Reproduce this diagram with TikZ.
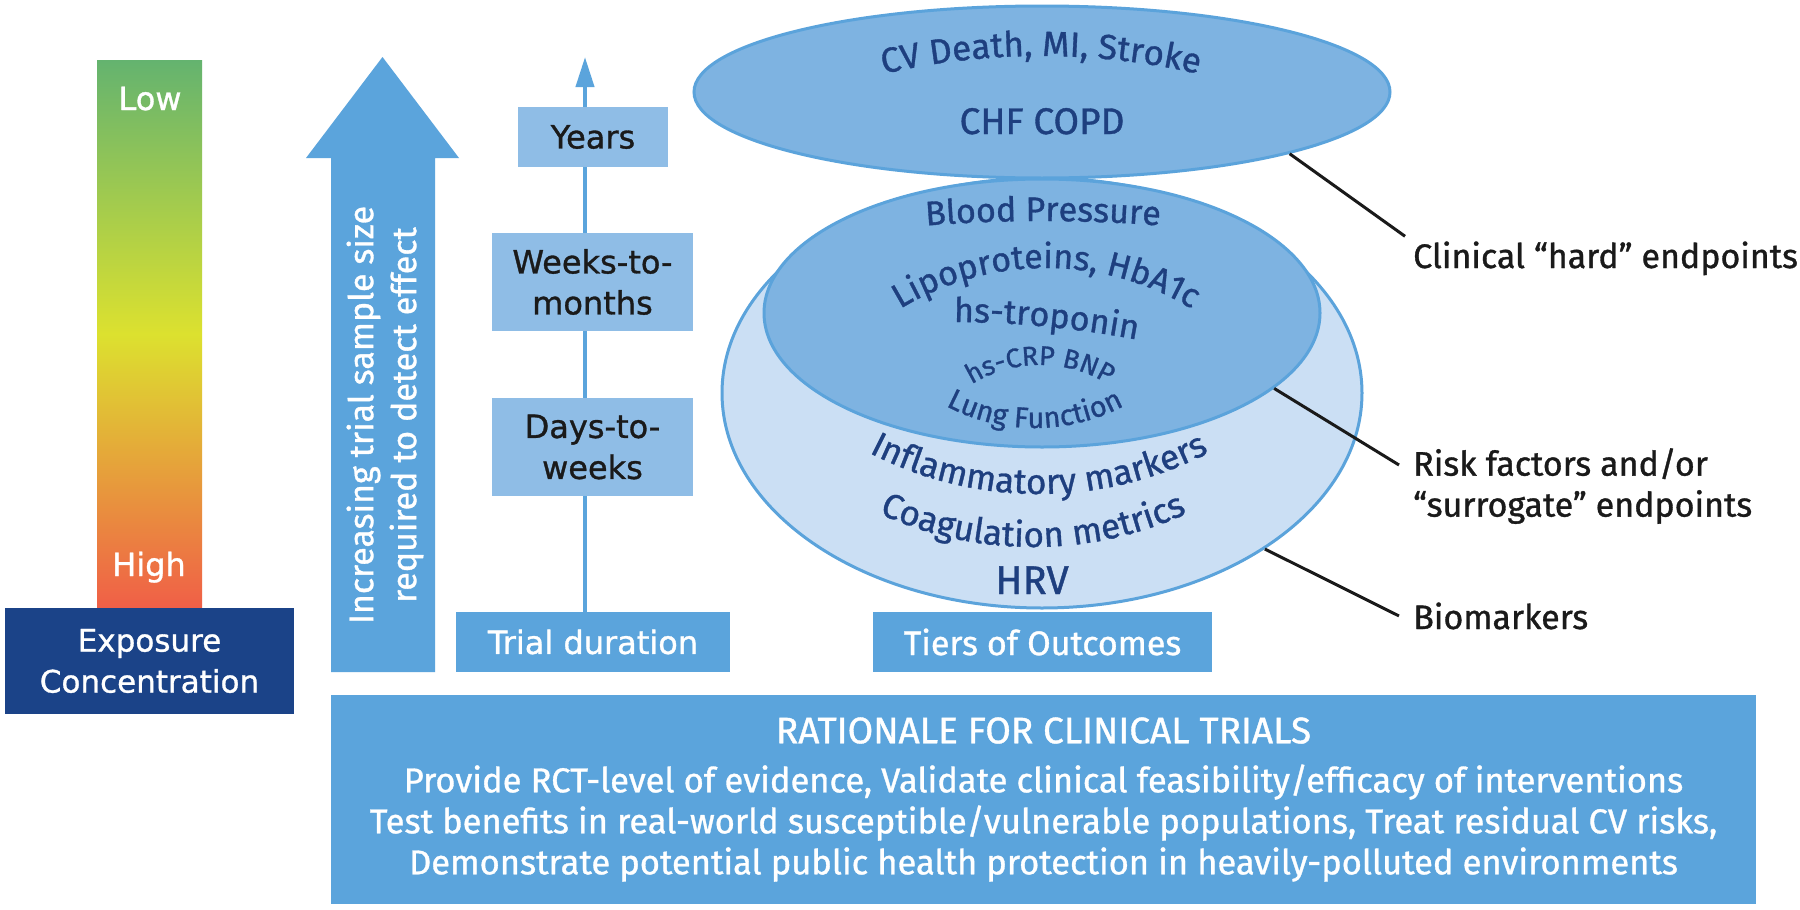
\documentclass[tikz,border=0pt]{standalone}
\usepackage{fontspec}
\setmainfont{Fira Sans}[FakeBold=1]
\newfontfamily\widefont{DejaVu Sans}[FakeBold=1]
\usetikzlibrary{shapes.geometric,arrows.meta,decorations.text}
\definecolor{boxblue}{HTML}{5BA4DC}
\definecolor{lightbox}{HTML}{8FBDE6}
\definecolor{ellmid}{HTML}{7EB3E1}
\definecolor{ellline}{HTML}{5BA3DB}
\definecolor{elllight}{HTML}{CBDFF4}
\definecolor{navy}{HTML}{1E3F7F}
\definecolor{expblue}{HTML}{1B4388}
\definecolor{gtop}{HTML}{64B36F}
\definecolor{gmid}{HTML}{DCE12F}
\definecolor{gbot}{HTML}{F05F47}
\definecolor{txtblack}{HTML}{1A1A1A}
\newcommand{\fsz}[1]{\fontsize{#1}{41}\selectfont}
\begin{document}
\begin{tikzpicture}[x=1pt,y=-1pt,
  ell/.style={ellipse, draw=ellline, line width=3pt, inner sep=0pt},
  boxnode/.style={rectangle, inner sep=0pt, fill=boxblue},
  durbox/.style={rectangle, inner sep=0pt, fill=lightbox, text=txtblack, font=\widefont\fsz{32}, align=center},
  eltext/.style={text=navy, inner sep=0pt},
  lbl/.style={text=txtblack, font=\fsz{34}, inner sep=0pt, align=left},
  conn/.style={draw=txtblack, line width=3pt},
  arctext/.style={decorate, decoration={text along path, text align=center}}
]
\useasboundingbox (0,0) rectangle (1800,910);
\fill[white] (0,0) rectangle (1800,910);

% ellipses
\node[ell, fill=elllight, minimum width=640pt, minimum height=430pt] (outerE) at (1042,393) {};
\node[ell, fill=ellmid, minimum width=556pt, minimum height=268pt] (innerE) at (1042,313) {};
\node[ell, fill=ellmid, minimum width=696pt, minimum height=172pt] (topE) at (1042,92) {};

% ellipse texts
\path[arctext, decoration={text={|\fsz{35}\color{navy}|CV Death, MI, Stroke}}]
  (1041,756) ++(110:700pt) arc[start angle=110, end angle=70, radius=700pt];
\node[eltext, font=\fsz{37}, anchor=base] (chf) at (1042,134) {CHF COPD};
\path[arctext, decoration={text={|\fsz{34}\color{navy}|Blood Pressure}}]
  (1043,1721) ++(98:1500pt) arc[start angle=98, end angle=82, radius=1500pt];
\path[arctext, decoration={text={|\fsz{34}\color{navy}|Lipoproteins, HbA1c}}]
  (1046,548) ++(125:280pt) arc[start angle=125, end angle=55, radius=280pt];
\path[arctext, decoration={text={|\fsz{34}\color{navy}|hs-troponin}}]
  (950,1322) ++(95:1000pt) arc[start angle=95, end angle=74, radius=1000pt];
\path[arctext, decoration={text={|\fsz{27}\color{navy}|hs-CRP BNP}}]
  (1040,495) ++(145:130pt) arc[start angle=145, end angle=35, radius=130pt];
\path[arctext, decoration={text={|\fsz{29}\color{navy}|Lung Function}}]
  (1035,238) ++(-135:190pt) arc[start angle=-135, end angle=-45, radius=190pt];
\path[arctext, decoration={text={|\fsz{35}\color{navy}|Inflammatory markers}}]
  (1039,124) ++(-125:370pt) arc[start angle=-125, end angle=-55, radius=370pt];
\path[arctext, decoration={text={|\fsz{35}\color{navy}|Coagulation metrics}}]
  (1033,177) ++(-125:370pt) arc[start angle=-125, end angle=-55, radius=370pt];
\node[eltext, font=\fsz{40}, anchor=base] (hrv) at (1032,594) {HRV};

% exposure gradient
\node[rectangle, inner sep=0pt, minimum width=105pt, minimum height=548pt,
  top color=gtop, bottom color=gbot, middle color=gmid] (grad) at (149.5,334) {};
\node[text=white, font=\widefont\fsz{32}, inner sep=0pt, anchor=base] (low) at (150,110) {Low};
\node[text=white, font=\widefont\fsz{32}, inner sep=0pt, anchor=base] (high) at (149,576) {High};
\node[rectangle, inner sep=0pt, fill=expblue, minimum width=289pt, minimum height=106pt,
  text=white, font=\widefont\fsz{31}, align=center] (expo) at (149.5,661) {Exposure\\Concentration};

% big sample-size arrow
\fill[boxblue] (331,672) -- (331,158) -- (306,158) -- (382.5,57) -- (459,158) -- (435,158) -- (435,672) -- cycle;
\node[text=white, font=\fontsize{34}{43}\selectfont, align=center, rotate=90, inner sep=0pt] (sampletxt) at (385,415)
  {Increasing trial sample size\\required to detect effect};

% trial duration column
\node[boxnode, minimum width=274pt, minimum height=60pt, text=white, font=\widefont\fsz{32}] (trial) at (593,642) {Trial duration};
\coordinate (durtip) at (585,57);
\draw[line width=4pt, boxblue, -{Triangle[width=18pt,length=30pt]}] (durtip |- trial.north) -- (durtip);
\node[durbox, minimum width=150pt, minimum height=60pt] (years) at (593,137) {Years};
\node[durbox, minimum width=201pt, minimum height=98pt] (weeks) at (592.5,282) {Weeks-to-\\months};
\node[durbox, minimum width=201pt, minimum height=98pt] (days) at (592.5,447) {Days-to-\\weeks};

% tiers
\node[boxnode, minimum width=339pt, minimum height=60pt, text=white, font=\fsz{34}] (tiers) at (1042.5,642) {Tiers of Outcomes};

% rationale
\node[boxnode, minimum width=1425pt, minimum height=209pt, text=white, align=center,
  font=\fontsize{34.5}{41}\selectfont] (rat) at (1043.5,799.5)
  {{\fontsize{37}{41}\selectfont RATIONALE FOR CLINICAL TRIALS}\\[8pt]
   Provide RCT-level of evidence, Validate clinical feasibility/efficacy of interventions\\
   Test benefits in real-world susceptible/vulnerable populations, Treat residual CV risks,\\
   Demonstrate potential public health protection in heavily-polluted environments};

% labels
\node[lbl, anchor=base west] (clin) at (1413,268) {Clinical “hard” endpoints};
\node[lbl, anchor=north west] (risk) at (1413,448) {Risk factors and/or\\“surrogate” endpoints};
\node[lbl, anchor=base west] (bio) at (1413,629) {Biomarkers};
\draw[conn] (topE.-14.5) -- ([xshift=-8pt,yshift=5pt]clin.north west);
\draw[conn] (innerE.-18.4) -- ([xshift=-14pt,yshift=-17pt]risk.north west);
\draw[conn] (outerE.-35) -- ([xshift=-14pt]bio.west);
\end{tikzpicture}
\end{document}
